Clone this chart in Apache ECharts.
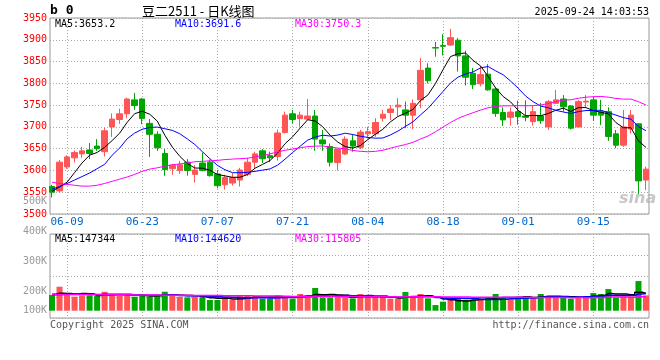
<!DOCTYPE html>
<html><head><meta charset="utf-8">
<script src="https://cdn.jsdelivr.net/npm/echarts/dist/echarts.min.js"></script>
<style>html,body{margin:0;padding:0;background:#fff}#c{width:660px;height:360px}</style>
</head><body><div id="c"></div>
<script>
// ---------- data ----------
const dates = ['06-05','06-06','06-09','06-10','06-11','06-12','06-13','06-16','06-17','06-18',
'06-19','06-20','06-23','06-24','06-25','06-26','06-27','06-30','07-01','07-02',
'07-03','07-04','07-07','07-08','07-09','07-10','07-11','07-14','07-15','07-16',
'07-17','07-18','07-21','07-22','07-23','07-24','07-25','07-28','07-29','07-30',
'07-31','08-01','08-04','08-05','08-06','08-07','08-08','08-11','08-12','08-13',
'08-14','08-15','08-18','08-19','08-20','08-21','08-22','08-25','08-26','08-27',
'08-28','08-29','09-01','09-02','09-03','09-04','09-05','09-08','09-09','09-10',
'09-11','09-12','09-15','09-16','09-17','09-18','09-19','09-22','09-23','09-24'];

const openP = [3563,3553,3608,3629,3638,3647,3656,3643,3700,3717,
3730,3762,3764,3708,3683,3639,3604,3600,3619,3591,
3617,3619,3592,3567,3571,3578,3591,3619,3645,3634,
3632,3687,3730,3719,3718,3725,3670,3655,3618,3638,
3668,3653,3684,3684,3720,3733,3746,3739,3727,3762,
3835,3882,3887,3888,3899,3863,3823,3799,3821,3787,
3733,3722,3735,3725,3712,3725,3700,3754,3764,3748,
3700,3757,3762,3735,3735,3684,3658,3695,3707,3578];

const closeP = [3550,3619,3631,3641,3645,3639,3650,3691,3718,3730,
3764,3749,3719,3683,3652,3602,3612,3613,3600,3601,
3600,3588,3565,3584,3584,3601,3619,3638,3627,3629,
3686,3727,3717,3727,3725,3672,3661,3619,3649,3672,
3656,3688,3689,3710,3729,3741,3750,3727,3754,3830,
3806,3881,3885,3905,3863,3814,3797,3820,3785,3731,
3716,3734,3724,3722,3735,3714,3758,3762,3746,3697,
3758,3759,3727,3727,3678,3658,3700,3727,3576,3603];

const lowP = [3538,3549,3604,3618,3629,3626,3645,3632,3677,3707,
3720,3739,3706,3631,3645,3588,3590,3592,3588,3572,
3598,3586,3559,3556,3565,3563,3587,3604,3617,3619,
3623,3685,3708,3700,3716,3645,3645,3609,3600,3636,
3643,3649,3673,3677,3712,3716,3725,3697,3695,3743,
3800,3861,3864,3886,3827,3795,3787,3793,3783,3723,
3702,3703,3705,3713,3703,3707,3693,3752,3735,3694,
3699,3745,3714,3704,3668,3651,3654,3685,3545,3555];

const highP = [3567,3624,3635,3646,3654,3663,3672,3698,3731,3742,
3767,3778,3766,3718,3690,3649,3615,3622,3626,3612,
3641,3625,3601,3590,3594,3606,3629,3643,3649,3643,
3694,3735,3739,3735,3764,3739,3693,3662,3650,3678,
3683,3693,3700,3720,3739,3750,3766,3758,3763,3858,
3846,3895,3913,3925,3904,3875,3835,3840,3844,3790,
3745,3745,3760,3761,3748,3755,3762,3785,3773,3750,
3762,3773,3769,3762,3745,3693,3739,3739,3708,3609];

const ma5 = [3552,3562,3573,3595,3617.2,3635,3641.2,3653.2,3668.6,3685.6,
3710.6,3730.4,3736,3729,3713.4,3681,3653.6,3632.4,3615.8,3605.6,
3605.2,3600.4,3590.8,3587.6,3584.2,3584.4,3590.6,3605.2,3613.8,3622.8,
3639.8,3661.4,3677.2,3697.2,3716.4,3713.6,3700.4,3680.8,3665.2,3654.6,
3651.4,3656.8,3670.8,3683,3694.4,3711.4,3723.8,3731.4,3740.2,3760.4,
3773.4,3799.6,3831.2,3861.4,3868,3869.6,3852.8,3839.8,3815.8,3789.4,
3769.8,3757.2,3738,3725.4,3726.2,3725.8,3730.6,3738.2,3743,3735.4,
3744.2,3744.4,3737.4,3733.6,3729.8,3709.8,3698,3698,3667.8,3652.8];

const ma10 = [3557,3563,3570,3578,3586,3594,3604,3614,3635,3651.4,
3672.8,3685.8,3694.6,3698.8,3699.5,3695.8,3692,3684.2,3672.4,3659.5,
3643.1,3627,3611.6,3601.7,3594.9,3594.8,3595.5,3598,3600.7,3603.5,
3612.1,3626,3641.2,3655.5,3669.6,3676.7,3680.9,3679,3681.2,3685.5,
3682.5,3678.6,3675.8,3674.1,3674.5,3681.4,3690.3,3701.1,3711.6,3727.4,
3742.4,3761.7,3781.3,3800.8,3814.2,3821.5,3826.2,3835.5,3838.6,3828.7,
3819.7,3805,3788.9,3770.6,3757.8,3747.8,3743.9,3738.1,3734.2,3730.8,
3735,3737.5,3737.8,3738.3,3732.6,3727,3721.2,3717.7,3700.7,3691.3];

const ma30 = [3573,3570,3568,3566,3564,3564,3566,3570,3575,3580,
3585,3591,3598,3603,3606,3610,3613,3615,3617,3620,
3621,3622,3623,3625,3626,3627,3628,3631,3634,3638.1,
3642.7,3646.3,3649.1,3652,3654.7,3655.8,3656.1,3653.7,3651.4,3649.5,
3645.9,3643.9,3642.9,3643.8,3646.3,3651,3655.6,3659.4,3664.5,3672.1,
3679,3688.8,3699.4,3710.1,3719.4,3726.5,3732.5,3738.5,3743.8,3747.2,
3748.2,3748.4,3748.7,3748.5,3748.8,3750.2,3753.5,3758.2,3761.5,3762.3,
3765.7,3768.1,3769.3,3769.9,3768.2,3765.4,3763.8,3763.8,3757.8,3750.3];

// volume in thousands (K)
const volume = [133,204,142,119,130,130,125,161,133,125,
125,119,142,119,130,161,125,119,113,119,
113,91,91,113,91,125,125,125,102,102,
130,125,102,142,130,193,113,113,119,119,
105,142,113,113,113,102,102,159,125,142,
105,48,77,91,102,91,91,102,110,142,
113,96,113,125,113,142,119,119,110,102,
125,125,150,142,184,110,119,119,252,130];

const volMa5 = [140,148,146,143,145.6,145,129.2,133,135.8,134.8,
133.8,132.6,128.8,126,127,134.2,135.4,130.8,129.6,127.4,
117.8,111,105.4,105.4,99.8,102.2,109,115.8,113.6,115.8,
116.8,116.8,112.2,120.2,125.8,138.4,136,138.2,133.6,131.4,
113.8,119.6,119.6,118.4,117.2,116.6,108.6,117.8,120.2,126,
126.6,115.8,99.4,92.6,84.6,81.8,90.4,95.4,99.2,107.2,
111.6,112.6,114.8,117.8,112,117.8,122.4,123.6,120.6,118.4,
115,116.2,122.4,128.8,145.2,142.2,141,134.8,156.8,146];

const volMa10 = [135,138,139,139,139,138,138,140,140,140.2,
139.4,130.9,130.9,130.9,130.9,134,134,129.8,127.8,127.2,
126,123.2,118.1,117.5,113.6,110,110,110.6,109.5,107.8,
109.5,112.9,114,116.9,120.8,127.6,126.4,125.2,126.9,128.6,
126.1,127.8,128.9,126,124.3,115.2,114.1,118.7,119.3,121.6,
121.6,112.2,108.6,106.4,105.3,104.2,103.1,97.4,95.9,95.9,
96.7,101.5,105.1,108.5,109.6,114.7,117.5,119.2,119.2,115.2,
116.4,119.3,123,124.7,131.8,128.6,128.6,128.6,142.8,145.6];

const volMa30 = [138,138,138,137,137,137,136,136,136,135,
135,134,134,133,133,132,132,131,131,130,
130,129,129,128,128,127,127,126,126,125.1,
125,122.3,121,121.8,121.8,123.9,123.5,121.9,121.4,121.2,
120.5,121.3,120.3,120.1,119.6,117.6,116.8,118.2,118.6,119.3,
119.1,117.6,117.2,116.4,116.8,115.7,114.5,113.8,114,115.4,
114.8,113.8,114.2,113.6,113.1,111.4,111.6,111.8,111.5,110.9,
111.6,111,112.2,113.2,115.6,115.8,116.4,115.1,119.3,118.9];

const xTickLabels = ['06-09','06-23','07-07','07-21','08-04','08-18','09-01','09-15'];
const priceMin = 3500, priceMax = 3950, priceStep = 50;
const volTickLabels = ['500K','400K','300K','200K','100K'];
const priceLegend = [['MA5', '3653.2'], ['MA10', '3691.6'], ['MA30', '3750.3']];
const volLegend = [['MA5', '147344'], ['MA10', '144620'], ['MA30', '115805']];
const headLeft = 'b 0';
const titleText = '豆二2511 - 日K线图';
const stampText = '2025-09-24 14:03:53';
const copyText = 'Copyright 2025 SINA.COM';
const urlText = 'http://finance.sina.com.cn';

// ---------- styling ----------
const UP = '#ff5555', DOWN = '#00a600';
const MA_COLORS = ['#000000', '#0000ff', '#ff00ff'];
const MONO = '"DejaVu Sans Mono","Liberation Mono",monospace';
const dotted = { show: true, lineStyle: { color: '#aaaaaa', type: [1, 2], width: 1 } };
const isTick = (i, v) => xTickLabels.indexOf(v) >= 0;

const chart = echarts.init(document.getElementById('c'), null, { renderer: 'canvas' });

function txt(text, x, y, fill, font, align, valign, extra) {
  return Object.assign({
    type: 'text', x: x, y: y, z: 100,
    style: { text: text, fill: fill, font: font, align: align || 'left', textAlign: align || 'left',
             verticalAlign: valign || 'middle', textVerticalAlign: valign || 'middle' }
  }, extra || {});
}

const graphics = [];
graphics.push(txt(headLeft, 50, 11, '#000', 'bold 13px ' + MONO));
graphics.push(txt(titleText, 142, 11, '#000', '13px "Noto Sans CJK SC"'));
graphics.push(txt(stampText, 649, 12, '#000', '10px ' + MONO, 'right'));
const legendX = [55, 175, 295];
priceLegend.forEach((p, k) => graphics.push(txt(p[0] + ':' + p[1], legendX[k], 24, MA_COLORS[k], '10px ' + MONO)));
volLegend.forEach((p, k) => graphics.push(txt(p[0] + ':' + p[1], legendX[k], 239, MA_COLORS[k], '10px ' + MONO)));
const volLabelY = [201, 231, 261, 291, 310];
volTickLabels.forEach((t, k) => graphics.push(txt(t, 47, volLabelY[k], '#999', '10px ' + MONO, 'right')));
graphics.push(txt(copyText, 50, 325, '#555', '10px ' + MONO));
graphics.push(txt(urlText, 649, 325, '#555', '10px ' + MONO, 'right'));
graphics.push(txt('sina', 619, 199, 'rgba(175,175,175,0.7)', 'italic bold 16px "DejaVu Sans"', 'left', 'middle'));

const option = {
  animation: false,
  backgroundColor: '#fff',
  grid: [
    { left: 50, top: 18, width: 599, height: 196, show: true, borderColor: '#999', borderWidth: 1 },
    { left: 50, top: 234, width: 599, height: 84, show: true, borderColor: '#999', borderWidth: 1 },
    { left: 52, top: 18, width: 594, height: 196 },
    { left: 52, top: 234, width: 594, height: 84 }
  ],
  xAxis: [
    { gridIndex: 0, type: 'value', min: 0, max: 1, show: false },
    { gridIndex: 1, type: 'value', min: 0, max: 1, show: false },
    { gridIndex: 2, type: 'category', data: dates, boundaryGap: false,
      axisLine: { show: false }, axisTick: { show: false },
      axisLabel: { interval: isTick, color: '#0066cc', fontFamily: MONO, fontSize: 11, margin: 3 },
      splitLine: Object.assign({ interval: isTick }, dotted) },
    { gridIndex: 3, type: 'category', data: dates, boundaryGap: false,
      axisLine: { show: false }, axisTick: { show: false }, axisLabel: { show: false },
      splitLine: Object.assign({ interval: isTick }, dotted) }
  ],
  yAxis: [
    { gridIndex: 0, type: 'value', min: priceMin, max: priceMax, interval: priceStep,
      axisLine: { show: false }, axisTick: { show: false },
      axisLabel: { color: '#ff0000', fontFamily: MONO, fontSize: 10, margin: 3, padding: [0, 0, 4, 0],
                   formatter: v => String(v) },
      splitLine: dotted },
    { gridIndex: 1, type: 'value', min: 0, max: 4, interval: 1,
      axisLine: { show: false }, axisTick: { show: false }, axisLabel: { show: false },
      splitLine: dotted },
    { gridIndex: 2, type: 'value', min: priceMin, max: priceMax, show: false },
    { gridIndex: 3, type: 'value', min: -62, max: 652, show: false }
  ],
  graphic: graphics,
  series: [
    { type: 'candlestick', xAxisIndex: 2, yAxisIndex: 2, barWidth: 6, clip: false,
      data: dates.map((d, i) => [openP[i], closeP[i], lowP[i], highP[i]]),
      itemStyle: { color: UP, color0: DOWN, borderColor: UP, borderColor0: DOWN, borderWidth: 1 } },
    ...[ma5, ma10, ma30].map((arr, k) => ({
      type: 'line', xAxisIndex: 2, yAxisIndex: 2, data: arr, symbol: 'none', silent: true,
      lineStyle: { color: MA_COLORS[k], width: 1 }, z: 3 })),
    { type: 'bar', xAxisIndex: 3, yAxisIndex: 3, barWidth: 6,
      data: volume.map((v, i) => ({ value: v, itemStyle: { color: closeP[i] >= openP[i] ? UP : DOWN } })) },
    ...[volMa5, volMa10, volMa30].map((arr, k) => ({
      type: 'line', xAxisIndex: 3, yAxisIndex: 3, data: arr, symbol: 'none', silent: true, step: 'middle',
      lineStyle: { color: MA_COLORS[k], width: 1.5 }, z: 3 }))
  ]
};
chart.setOption(option);
</script>
</body></html>
